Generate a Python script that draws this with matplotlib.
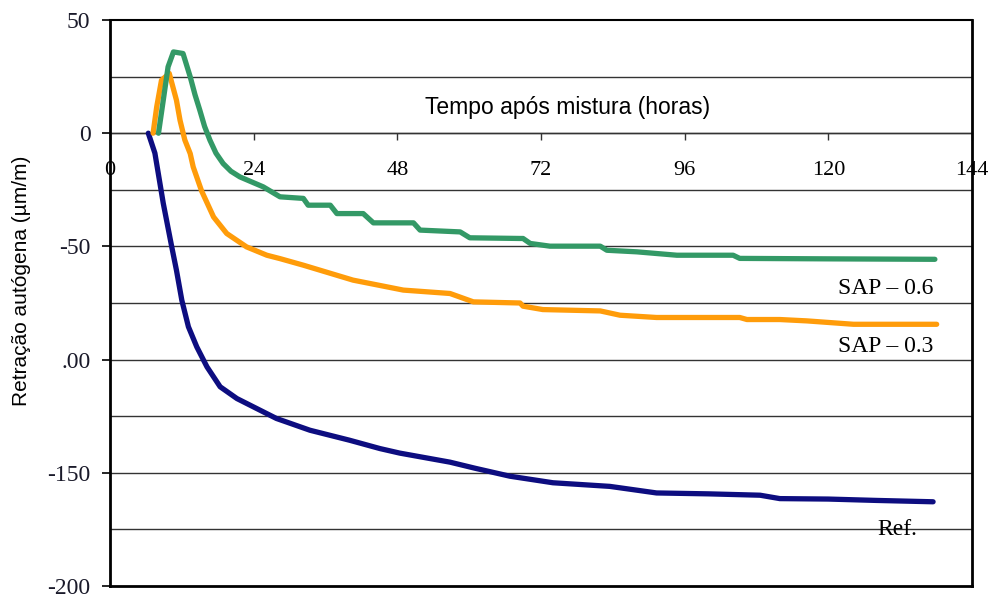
import matplotlib
matplotlib.use("Agg")
from matplotlib import pyplot as plt

# time after mixing (h) and autogenous shrinkage (um/m)
ref_t = [6.4, 7.5, 8.9, 10.3, 11.1, 12.0, 13.1, 14.5, 16.2, 18.4, 21.2, 24.5, 27.8,
         33.4, 40.0, 45.1, 48.4, 56.8, 61.0, 66.8, 74.0, 83.5, 91.3, 100.0, 108.6,
         111.9, 120.0, 128.0, 137.5]
ref_v = [0, -8.8, -31, -50, -60.5, -73.8, -85.5, -94.4, -103.2, -112, -117.2, -121.6,
         -126, -131.2, -135.6, -139.3, -141.3, -145.3, -148, -151.5, -154.4, -156,
         -158.9, -159.3, -159.9, -161.4, -161.6, -162.2, -162.8]

sap03_t = [7.2, 7.8, 8.6, 9.9, 11.1, 11.7, 12.5, 13.4, 13.9, 15.3, 17.3, 19.5, 22.8,
           26.2, 28.4, 32.3, 40.6, 49.0, 56.8, 60.7, 68.5, 69.0, 72.3, 81.9, 85.2,
           91.3, 105.2, 106.4, 111.9, 116.4, 124.2, 138.1]
sap03_v = [0, 11.6, 23.4, 26.4, 14.6, 5.7, -3, -9, -14.9, -25.5, -37, -44.3, -50.2,
           -53.9, -55.4, -58.3, -64.9, -69.3, -70.8, -74.5, -75, -76.4, -77.9, -78.5,
           -80.4, -81.4, -81.4, -82.3, -82.3, -82.9, -84.4, -84.4]

sap06_t = [8.1, 8.9, 9.7, 10.6, 12.2, 13.4, 14.2, 15.0, 15.8, 16.7, 17.7, 18.9, 20.2,
           21.7, 25.6, 28.4, 32.3, 33.1, 36.8, 37.9, 42.3, 44.0, 50.7, 51.8, 58.5,
           60.1, 68.5, 69.0, 70.2, 73.5, 81.9, 83.0, 88.0, 94.7, 104.1, 105.2, 120.0,
           137.8]
sap06_v = [0, 14.6, 29.3, 35.9, 35.2, 24.9, 17.0, 10.2, 3.0, -3.1, -8.8, -13.4, -16.8,
           -19.3, -23.7, -28.1, -28.8, -31.8, -31.8, -35.5, -35.5, -39.6, -39.6, -42.8,
           -43.6, -46.2, -46.5, -46.5, -48.7, -49.9, -49.9, -51.7, -52.4, -53.9, -53.9,
           -55.3, -55.5, -55.7]

x_ticks = [0, 24, 48, 72, 96, 120, 144]
y_ticks = [50, 0, -50, -100, -150, -200]
y_tick_labels = ["50", "0", "-50", ".00", "-150", "-200"]
grid_levels = [25, 0, -25, -50, -75, -100, -125, -150, -175]

serif = "Liberation Serif"
sans = "Liberation Sans"

fig = plt.figure(figsize=(9.92, 5.96), dpi=100)
ax = fig.add_axes([110 / 992, 10 / 596, 862 / 992, 566 / 596])
ax.set_xlim(0, 144)
ax.set_ylim(-200, 50)

for g in grid_levels:
    ax.axhline(g, color="#333333", lw=1.0, zorder=1)

ax.plot(ref_t, ref_v, color="#0d0d80", lw=3.8, solid_capstyle="round", zorder=3)
ax.plot(sap03_t, sap03_v, color="#ff9c0a", lw=3.8, solid_capstyle="round", zorder=3)
ax.plot(sap06_t, sap06_v, color="#339966", lw=3.8, solid_capstyle="round", zorder=3)

# spines
for s in ["left", "right", "bottom"]:
    ax.spines[s].set_linewidth(2.0)
    ax.spines[s].set_color("black")
ax.spines["top"].set_linewidth(1.5)

ax.set_yticks(y_ticks)
ax.set_yticklabels(y_tick_labels, fontfamily=serif, fontsize=17, color="#1a1a2a")
ax.tick_params(axis="y", direction="out", length=6, width=1.2, pad=8)
ax.set_xticks([])

# x axis crossing at y = 0
xax = ax.secondary_xaxis(0.8)
xax.set_alignment("bottom")
xax.set_xticks(x_ticks)
xax.set_xticklabels([str(t) for t in x_ticks], fontfamily=serif, fontsize=16)
xax.tick_params(direction="out", length=5, width=1.0, color="#333333", pad=15)
for s in xax.spines.values():
    s.set_linewidth(1.0)
    s.set_color("#333333")

ax.text(76.5, 11.5, "Tempo após mistura (horas)", fontfamily=sans, fontsize=16.5,
        ha="center", va="center")
fig.text(22 / 992, 1 - 281 / 596, "Retração autógena (µm/m)", fontfamily=sans,
         fontsize=15, rotation=90, ha="center", va="center")

ax.text(137.5, -68.5, "SAP – 0.6", fontfamily=serif, fontsize=17, ha="right", va="center")
ax.text(137.5, -94, "SAP – 0.3", fontfamily=serif, fontsize=17, ha="right", va="center")
ax.text(131.5, -175, "Ref.", fontfamily=serif, fontsize=17, ha="center", va="center")

fig.savefig("out.png", dpi=100)
